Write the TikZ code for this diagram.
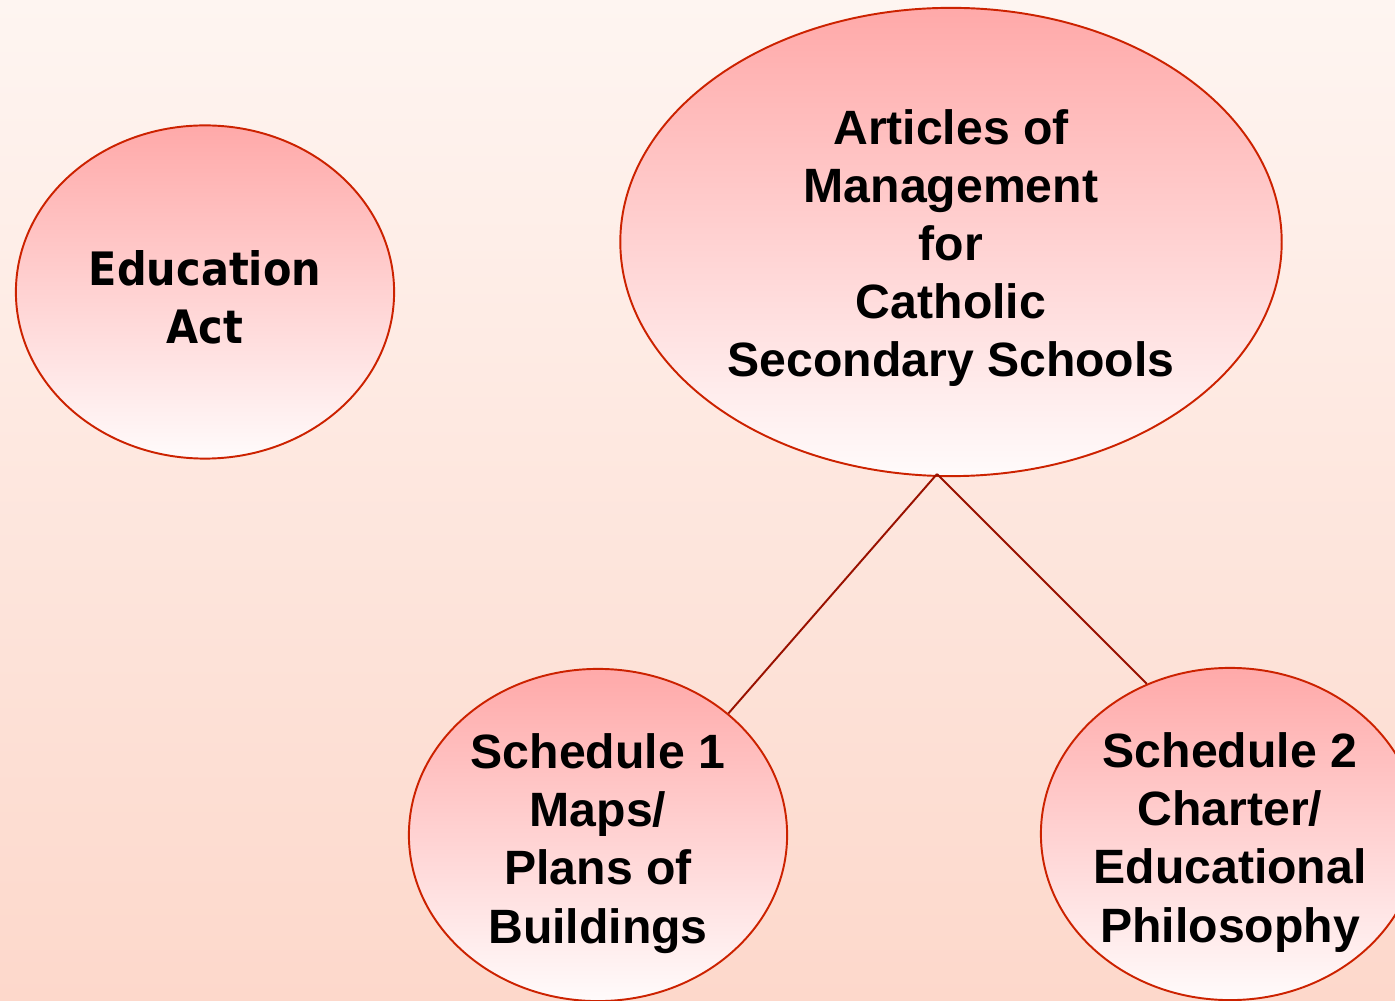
\documentclass[tikz,border=0pt]{standalone}
\usepackage{fontspec}
\setmainfont{Liberation Sans}
\newfontfamily\actfont{DejaVu Sans Condensed}
\usetikzlibrary{shapes.geometric,positioning}
\definecolor{bgtop}{HTML}{FEF5F1}
\definecolor{bgbot}{HTML}{FDD8CB}
\definecolor{bubtop}{HTML}{FFA9A9}
\definecolor{bubbot}{HTML}{FFFBFB}
\definecolor{rim}{HTML}{CC2200}
\definecolor{link}{HTML}{991100}
% text block of no size, lowered a little inside its bubble
\newcommand\btext[2][0.2cm]{\makebox[0pt]{\raisebox{-#1}[0pt][0pt]{\begin{tabular}{@{}c@{}}#2\end{tabular}}}}

\begin{document}
\begin{tikzpicture}[x=0.01cm,y=-0.01cm,
  bubble/.style={ellipse, draw=rim, line width=0.55pt, top color=bubtop, bottom color=bubbot, inner sep=0pt, font=\bfseries\fontsize{13.7}{16.5}\selectfont},
  tie/.style={draw=link, line width=0.55pt}]
\useasboundingbox (0,0) rectangle (1395,1001);
\fill[top color=bgtop, bottom color=bgbot] (0,0) rectangle (1395,1001);
\clip (0,0) rectangle (1395,1001);
\node[bubble, minimum width=3.78cm, minimum height=3.33cm, font=\actfont\bfseries\fontsize{13.1}{16.5}\selectfont] (edact) at (205,292) {\btext[0.21cm]{Education\\Act}};
\node[bubble, minimum width=6.61cm, minimum height=4.68cm] (articles) at (951,242) {\btext[0.20cm]{Articles of\\Management\\for\\Catholic\\Secondary Schools}};
\node[bubble, minimum width=3.78cm, minimum height=3.32cm] (sched1) at (598,835) {\btext[0.22cm]{Schedule 1\\Maps/\\Plans of\\Buildings}};
\node[bubble, minimum width=3.78cm, minimum height=3.32cm] (sched2) at (1230,834) {\btext[0.22cm]{Schedule 2\\Charter/\\Educational\\Philosophy}};
\coordinate (artfoot) at (937,474);
\draw[tie] (artfoot) -- (sched1.43);
\draw[tie] (artfoot) -- (sched2.119);
\end{tikzpicture}
\end{document}
